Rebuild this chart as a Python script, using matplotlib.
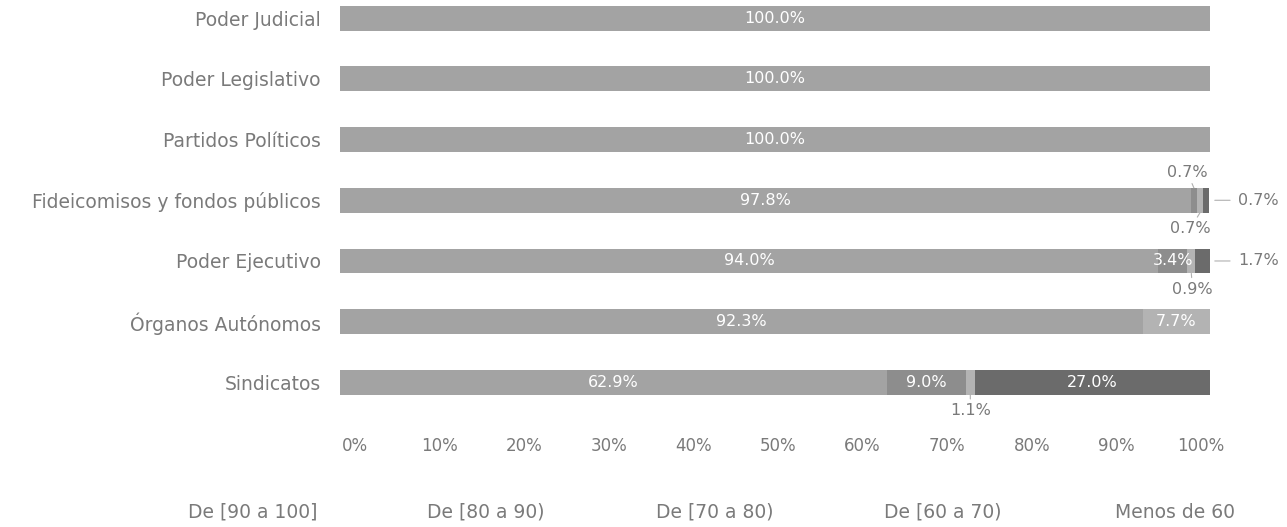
import matplotlib
matplotlib.use("Agg")
import matplotlib.pyplot as plt
import matplotlib.transforms as mtransforms
import numpy as np

# datos
categorias = ['Poder Judicial', 'Poder Legislativo', 'Partidos Políticos',
              'Fideicomisos y fondos públicos', 'Poder Ejecutivo',
              'Órganos Autónomos', 'Sindicatos']
series = ['De [90 a 100]', 'De [80 a 90)', 'De [70 a 80)', 'De [60 a 70)', 'Menos de 60']
v_90_100 = [100.0, 100.0, 100.0, 97.8, 94.0, 92.3, 62.9]
v_80_90 = [0.0, 0.0, 0.0, 0.7, 3.4, 0.0, 9.0]
v_70_80 = [0.0, 0.0, 0.0, 0.7, 0.9, 7.7, 1.1]
v_60_70 = [0.0, 0.0, 0.0, 0.0, 0.0, 0.0, 0.0]
v_menos_60 = [0.0, 0.0, 0.0, 0.7, 1.7, 0.0, 27.0]
ticks = [0, 10, 20, 30, 40, 50, 60, 70, 80, 90, 100]

colores = ['#a3a3a3', '#8d8d8d', '#b3b3b3', '#7c7c7c', '#6b6b6b']
gris = '#7a7a7a'

plt.rcParams['font.family'] = ['DejaVu Sans']

fig = plt.figure(figsize=(12.87, 5.27), dpi=100)
W, H = 1287, 527
ax = fig.add_axes([340 / W, 1 - 420 / H, 870 / W, 420 / H])

valores = [v_90_100, v_80_90, v_70_80, v_60_70, v_menos_60]
y = np.arange(len(categorias))
izq = np.zeros(len(categorias))
segs = []
for i, vals in enumerate(valores):
    vals = np.array(vals)
    ax.barh(y, vals, left=izq, height=0.41, color=colores[i], linewidth=0)
    segs.append((izq.copy(), vals))
    izq += vals

# etiquetas dentro de las barras
for i, (lft, vals) in enumerate(segs):
    for j, v in enumerate(vals):
        if v >= 3:
            ax.text(lft[j] + v / 2, j, f'{v:.1f}%', ha='center', va='center',
                    color='white', fontsize=11.5)

# etiquetas pequeñas fuera de la barra
def fuera(j, serie, dx, dy, ha, va, x0=None, y0=None, shrink=1):
    lft, vals = segs[serie]
    v = vals[j]
    xc = lft[j] + v / 2 if x0 is None else x0
    yc = j if y0 is None else y0
    ax.annotate(f'{v:.1f}%', xy=(xc, yc), xytext=(dx, dy), textcoords='offset points',
                ha=ha, va=va, color=gris, fontsize=11.5, annotation_clip=False,
                arrowprops=dict(arrowstyle='-', color='#b0b0b0', lw=0.8,
                                shrinkA=shrink, shrinkB=0))

fuera(3, 1, -5, 6, 'center', 'bottom', y0=3 - 0.205)
fuera(3, 2, -7, -6, 'center', 'top', y0=3 + 0.205)
fuera(3, 4, 17, 0, 'left', 'center', x0=100.55, shrink=4)
fuera(4, 2, 1, -6, 'center', 'top', y0=4 + 0.205)
fuera(4, 4, 17, 0, 'left', 'center', x0=100.55, shrink=4)
fuera(6, 2, 0, -6, 'center', 'top', y0=6 + 0.205)

ax.set_xlim(0, 100)
ax.set_ylim(6.62, -0.3)
ax.set_yticks(y)
ax.set_yticklabels(categorias, fontsize=13.5, color=gris)
ax.set_xticks(ticks)
ax.set_xticklabels([f'{t}%' for t in ticks], fontsize=12, color=gris)
ax.tick_params(length=0, axis='y', pad=14)
ax.tick_params(length=0, axis='x', pad=12)
for s in ax.spines.values():
    s.set_visible(False)
# desplazar etiquetas del eje x como en el original
for t, lab in zip(ticks, ax.get_xticklabels()):
    desp = (15 - 24 * t / 100) / 100
    lab.set_transform(lab.get_transform() + mtransforms.ScaledTranslation(desp, 0, fig.dpi_scale_trans))

# leyenda (solo texto)
xs_ley = [253, 486, 715, 943, 1175]
for nombre, xl in zip(series, xs_ley):
    fig.text(xl / W, 1 - 512 / H, nombre, ha='center', va='center', fontsize=13.5, color=gris)

fig.savefig('out.png', dpi=100)
